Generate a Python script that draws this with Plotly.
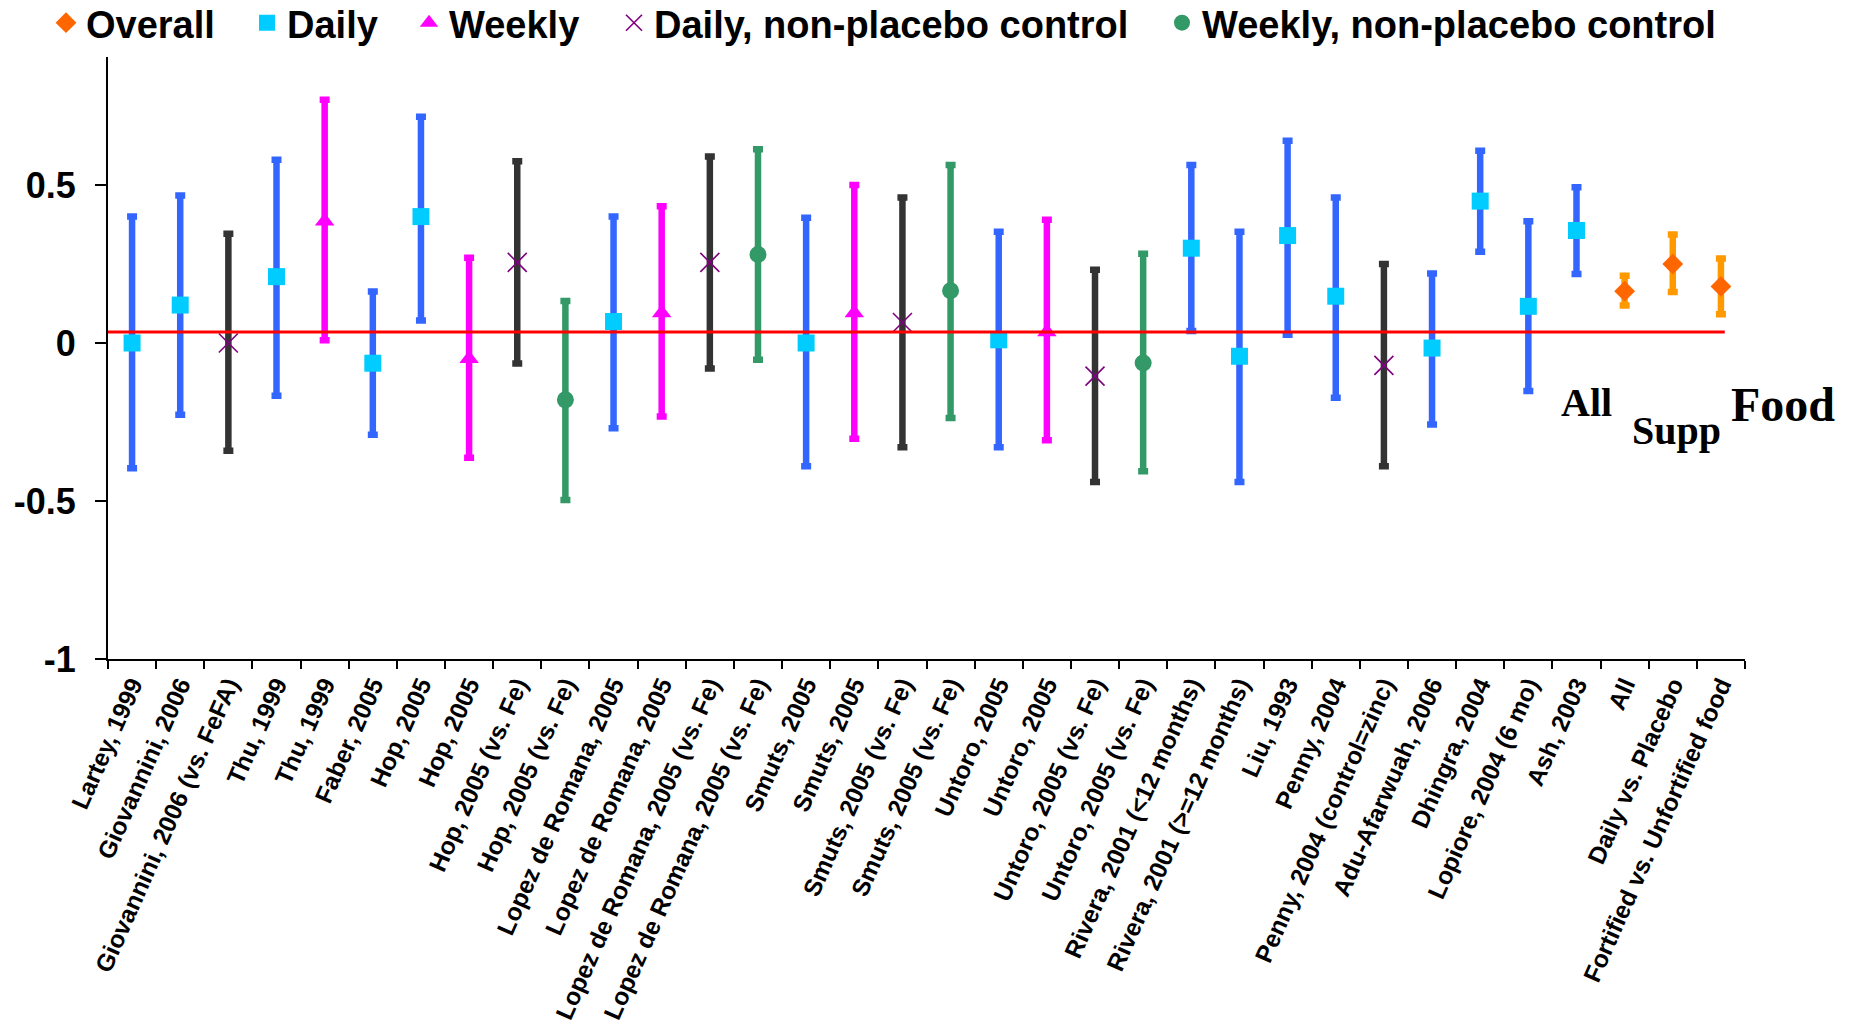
import plotly.graph_objects as go

# ---------------- data ----------------
labels = [
    "Lartey, 1999", "Giovannini, 2006", "Giovannini, 2006 (vs. FeFA)", "Thu, 1999", "Thu, 1999",
    "Faber, 2005", "Hop, 2005", "Hop, 2005", "Hop, 2005 (vs. Fe)", "Hop, 2005 (vs. Fe)",
    "Lopez de Romana, 2005", "Lopez de Romana, 2005", "Lopez de Romana, 2005 (vs. Fe)",
    "Lopez de Romana, 2005 (vs. Fe)", "Smuts, 2005", "Smuts, 2005", "Smuts, 2005 (vs. Fe)",
    "Smuts, 2005 (vs. Fe)", "Untoro, 2005", "Untoro, 2005", "Untoro, 2005 (vs. Fe)",
    "Untoro, 2005 (vs. Fe)", "Rivera, 2001 (<12 months)", "Rivera, 2001 (>=12 months)",
    "Liu, 1993", "Penny, 2004", "Penny, 2004 (control=zinc)", "Adu-Afarwuah, 2006",
    "Dhingra, 2004", "Lopiore, 2004 (6 mo)", "Ash, 2003", "All", "Daily vs. Placebo",
    "Fortified vs. Unfortified food",
]
groups = [
    "Daily", "Daily", "DailyNP", "Daily", "Weekly", "Daily", "Daily", "Weekly", "DailyNP", "WeeklyNP",
    "Daily", "Weekly", "DailyNP", "WeeklyNP", "Daily", "Weekly", "DailyNP", "WeeklyNP",
    "Daily", "Weekly", "DailyNP", "WeeklyNP", "Daily", "Daily", "Daily", "Daily", "DailyNP",
    "Daily", "Daily", "Daily", "Daily", "Overall", "Overall", "Overall",
]
means = [0.0, 0.12, 0.0, 0.21, 0.385, -0.064, 0.40, -0.05, 0.255, -0.18,
         0.068, 0.095, 0.255, 0.28, 0.0, 0.095, 0.065, 0.165, 0.01, 0.035,
         -0.105, -0.063, 0.30, -0.042, 0.34, 0.148, -0.071, -0.016, 0.449, 0.116,
         0.356, 0.164, 0.25, 0.179]
upper = [0.40, 0.467, 0.346, 0.58, 0.77, 0.163, 0.716, 0.27, 0.575, 0.133,
         0.40, 0.433, 0.59, 0.613, 0.396, 0.50, 0.46, 0.563, 0.352, 0.39,
         0.232, 0.282, 0.563, 0.352, 0.64, 0.46, 0.25, 0.22, 0.608, 0.385,
         0.493, 0.213, 0.343, 0.267]
lower = [-0.396, -0.227, -0.341, -0.167, 0.009, -0.29, 0.071, -0.363, -0.065, -0.497,
         -0.27, -0.233, -0.081, -0.053, -0.39, -0.303, -0.33, -0.237, -0.33, -0.308,
         -0.44, -0.406, 0.038, -0.44, 0.026, -0.173, -0.39, -0.258, 0.289, -0.152,
         0.218, 0.119, 0.161, 0.091]
ref_line = 0.035
y_ticks = [-1, -0.5, 0, 0.5]
y_tick_text = ["-1", "-0.5", "0", "0.5"]

# ---------------- styles ----------------
styles = {
    "Overall": dict(name="Overall", symbol="diamond", mcolor="#FF6600", ecolor="#FF9900", size=16, legend="legend"),
    "Daily": dict(name="Daily", symbol="square", mcolor="#00CCFF", ecolor="#3366FF", size=17, legend="legend2"),
    "Weekly": dict(name="Weekly", symbol="triangle-up", mcolor="#FF00FF", ecolor="#FF00FF", size=17, legend="legend3"),
    "DailyNP": dict(name="Daily, non-placebo control", symbol="x-thin-open", mcolor="#800080", ecolor="#333333", size=19, legend="legend4"),
    "WeeklyNP": dict(name="Weekly, non-placebo control", symbol="circle", mcolor="#339966", ecolor="#339966", size=17, legend="legend5"),
}
legend_centers = {"legend": 64, "legend2": 265, "legend3": 427, "legend4": 632, "legend5": 1180}

W, H = 1852, 1029
ML, MR, MT, MB = 108, 107, 57, 370
fig = go.Figure()
for key in ["Overall", "Daily", "Weekly", "DailyNP", "WeeklyNP"]:
    st = styles[key]
    idx = [i for i, g in enumerate(groups) if g == key]
    ys = [means[i] for i in idx]
    ep = [upper[i] - means[i] for i in idx]
    em = [means[i] - lower[i] for i in idx]
    marker = dict(symbol=st["symbol"], color=st["mcolor"], size=st["size"])
    if st["symbol"] == "x-thin-open":
        marker["line"] = dict(color=st["mcolor"], width=1.6)
    fig.add_trace(go.Scatter(
        x=idx, y=ys, mode="markers", name=st["name"], legend=st["legend"],
        marker=marker,
        error_y=dict(type="data", array=ep, arrayminus=em, symmetric=False,
                     color=st["ecolor"], thickness=6.5, width=5),
        cliponaxis=False,
    ))

# red reference line
fig.add_shape(type="line", xref="x", yref="y", x0=-0.57, x1=33.08, y0=ref_line, y1=ref_line,
              line=dict(color="#FF0000", width=3), layer="above")

legend_font = dict(family="Liberation Sans, Arial, sans-serif", size=38, color="black", weight="bold")
layout_legends = {}
for lg, cx in legend_centers.items():
    layout_legends[lg] = dict(
        xref="container", yref="container", x=(cx - 18) / W, y=1 - 23 / H,
        xanchor="left", yanchor="middle", orientation="h",
        font=legend_font, bgcolor="rgba(0,0,0,0)", borderwidth=0,
        itemsizing="trace",
    )

fig.update_layout(
    width=W, height=H,
    margin=dict(l=ML, r=MR, t=MT, b=MB, autoexpand=False),
    plot_bgcolor="white", paper_bgcolor="white",
    showlegend=True,
    **layout_legends,
    xaxis=dict(
        range=[-0.5, 33.5], showgrid=False, zeroline=False, automargin=False,
        showline=True, linecolor="black", linewidth=2,
        tickmode="array", tickvals=list(range(len(labels))), ticktext=labels,
        ticks="", tickangle=-66,
        tickfont=dict(family="Liberation Sans, Arial, sans-serif", size=24.5, color="black", weight="bold"),
        minor=dict(tick0=-0.5, dtick=1, ticks="outside", ticklen=8, tickwidth=2, tickcolor="black", showgrid=False),
    ),
    yaxis=dict(
        range=[-1, 0.905], showgrid=False, zeroline=False, automargin=False,
        showline=True, linecolor="black", linewidth=2,
        tickmode="array", tickvals=y_ticks, ticktext=y_tick_text,
        ticks="outside", ticklen=11, tickwidth=2, tickcolor="black",
        ticklabelstandoff=12,
        tickfont=dict(family="Liberation Sans, Arial, sans-serif", size=36, color="black", weight="bold"),
    ),
)

plot_w = W - ML - MR
for txt, px, yv, fs in [("All", 1586, -0.187, 40), ("Supp", 1676, -0.276, 40), ("Food", 1783, -0.194, 48)]:
    fig.add_annotation(text=txt, x=(px - ML) / plot_w, y=yv, xref="paper", yref="y", showarrow=False,
                       font=dict(family="Liberation Serif, Times New Roman, serif", size=fs,
                                 color="black", weight="bold"),
                       xanchor="center", yanchor="middle")

fig.write_html("out.html", config={"displayModeBar": False},
               post_script="document.body.style.margin='0';document.body.style.overflow='hidden';")
